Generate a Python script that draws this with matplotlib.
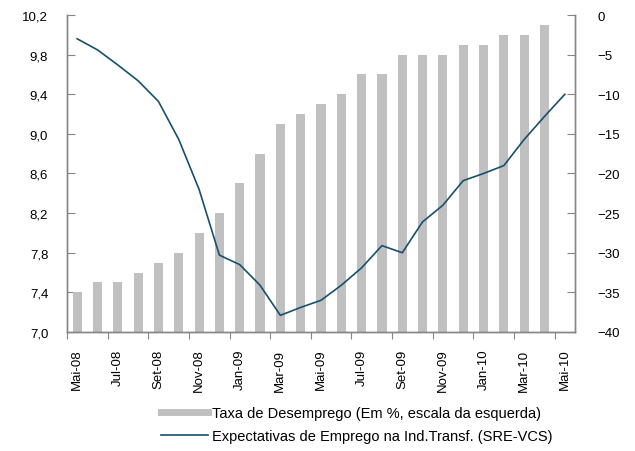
import numpy as np
import matplotlib
matplotlib.use('Agg')
import matplotlib.pyplot as plt
from matplotlib.lines import Line2D
from matplotlib.ticker import FuncFormatter

plt.rcParams['font.family'] = ['Liberation Sans', 'DejaVu Sans']

# monthly categories Mai-08 .. Mai-10
months = ['Mai-08', 'Jun-08', 'Jul-08', 'Ago-08', 'Set-08', 'Out-08', 'Nov-08', 'Dez-08',
          'Jan-09', 'Fev-09', 'Mar-09', 'Abr-09', 'Mai-09', 'Jun-09', 'Jul-09', 'Ago-09',
          'Set-09', 'Out-09', 'Nov-09', 'Dez-09', 'Jan-10', 'Fev-10', 'Mar-10', 'Abr-10',
          'Mai-10']

# unemployment rate (left axis), no value for the last month
desemprego = [7.4, 7.5, 7.5, 7.6, 7.7, 7.8, 8.0, 8.2, 8.5, 8.8, 9.1, 9.2, 9.3, 9.4,
              9.6, 9.6, 9.8, 9.8, 9.8, 9.9, 9.9, 10.0, 10.0, 10.1, np.nan]

# employment expectations (right axis)
expectativas = [-3.0, -4.4, -6.3, -8.3, -10.9, -15.7, -22.0, -30.3, -31.5, -34.1,
                -37.9, -36.9, -36.0, -34.1, -31.9, -29.1, -30.0, -26.1, -24.0, -20.9,
                -20.0, -19.0, -15.7, -12.8, -10.0]

label_bar = 'Taxa de Desemprego (Em %, escala da esquerda)'
label_line = 'Expectativas de Emprego na Ind.Transf. (SRE-VCS)'

bar_col = '#c0c0c0'
line_col = '#17506e'
axis_col = '#868686'

x = np.arange(len(months))

fig = plt.figure(figsize=(6.35, 4.52), dpi=100)
ax = fig.add_axes([0.1055, 0.2633, 0.8, 0.7013])
ax.bar(x, desemprego, width=0.45, color=bar_col, zorder=2)
ax.set_ylim(7.0, 10.2)
ax.set_yticks(np.arange(7.0, 10.21, 0.4))
ax.yaxis.set_major_formatter(FuncFormatter(lambda v, p: ('%.1f' % v).replace('.', ',')))
ax.set_xlim(-0.5, len(months) - 0.5)

ax2 = ax.twinx()
ax2.plot(x, expectativas, color=line_col, lw=1.2, zorder=3)
ax2.set_ylim(-40, 0)
ax2.set_yticks(np.arange(-40, 1, 5))

# tick marks on category boundaries, labels every 2 months
ax.set_xticks(x[::2] - 0.5)
ax.set_xticklabels([])
ax.set_xticks(x[::2], minor=True)
ax.set_xticklabels(months[::2], minor=True, rotation=90, fontsize=9.5)
ax.tick_params(axis='x', which='major', direction='out', length=5, color=axis_col)
ax.tick_params(axis='x', which='minor', length=0, pad=12)

ax.tick_params(axis='y', direction='in', length=6, color=axis_col, labelsize=9.5, pad=13.5)
ax2.tick_params(axis='y', direction='in', length=6, color=axis_col, labelsize=9.5, pad=16)

for a in (ax, ax2):
    a.spines['top'].set_visible(False)
    for s in ('left', 'right', 'bottom'):
        a.spines[s].set_color(axis_col)
        a.spines[s].set_linewidth(1.0)

handles = [Line2D([], [], color=bar_col, lw=5),
           Line2D([], [], color=line_col, lw=1.2)]
fig.legend(handles, [label_bar, label_line], loc='upper left',
           bbox_to_anchor=(0.245, 0.112), bbox_transform=fig.transFigure,
           frameon=False, fontsize=10.5, handlelength=3.2, handletextpad=0.25,
           labelspacing=0.62, borderaxespad=0)

fig.savefig('out.png', dpi=100)
